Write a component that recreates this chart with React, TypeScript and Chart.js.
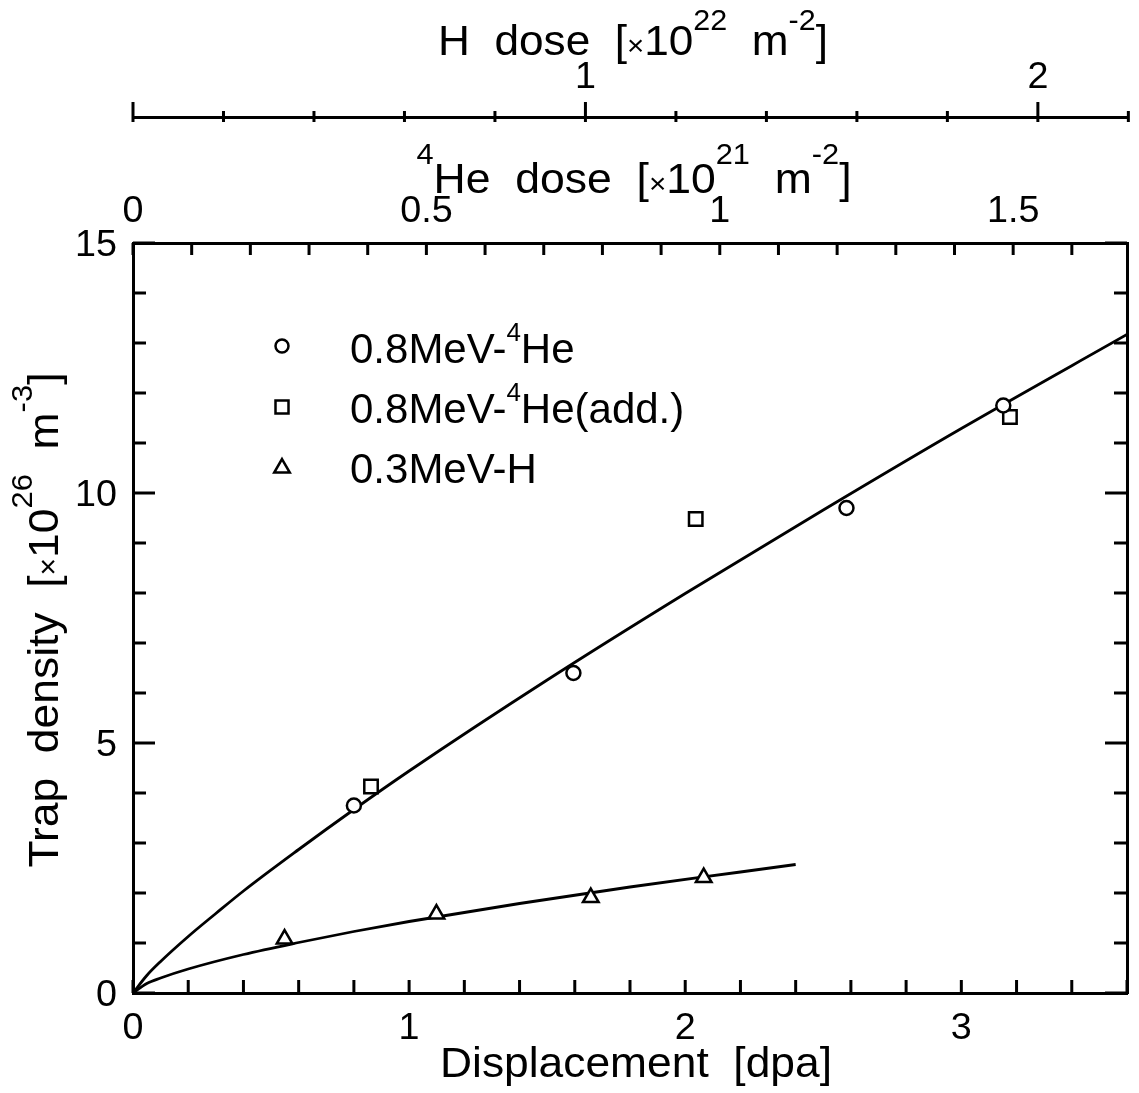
import React, { useEffect, useRef } from 'react';
import { Chart, registerables } from 'chart.js';

Chart.register(...registerables);

// ---- data ----
const circleX = [0.8, 1.595, 2.584, 3.152];
const circleY = [3.75, 6.4, 9.7, 11.75];
const squareX = [0.862, 2.038, 3.176];
const squareY = [4.13, 9.48, 11.52];
const triangleX = [0.549, 1.099, 1.658, 2.067];
const triangleY = [1.08, 1.58, 1.91, 2.31];

const fitHeX = [0, 0.05, 0.1, 0.2, 0.3, 0.4, 0.6, 0.8, 1.0, 1.5, 2.0, 2.5, 3.0, 3.6];
const fitHeY = [0, 0.35, 0.63, 1.13, 1.59, 2.04, 2.87, 3.67, 4.44, 6.26, 7.99, 9.66, 11.29, 13.17];
const fitHX = [0, 0.05, 0.1, 0.2, 0.4, 0.6, 0.8, 1.0, 1.4, 1.8, 2.2, 2.4];
const fitHY = [0, 0.19, 0.3, 0.48, 0.77, 1.01, 1.23, 1.43, 1.79, 2.12, 2.42, 2.57];

const xTickValues = [0, 1, 2, 3];
const xTickLabels = ['0', '1', '2', '3'];
const yTickValues = [0, 5, 10, 15];
const yTickLabels = ['0', '5', '10', '15'];
const heTickValues = [0, 0.5, 1, 1.5];
const heTickLabels = ['0', '0.5', '1', '1.5'];
const hTickValues = [1, 2];
const hTickLabels = ['1', '2'];

const seriesNames = ['0.8MeV-', '0.8MeV-', '0.3MeV-H'];

const FONT = '"Liberation Sans", Arial, Helvetica, sans-serif';

type Seg = { t: string; size: number; dy?: number };

function drawRich(
  ctx: CanvasRenderingContext2D,
  segs: Seg[],
  x: number,
  y: number,
  targetWidth: number | null,
  align: 'left' | 'center' | 'right',
  stretch = 1
) {
  let w = 0;
  const widths: number[] = [];
  for (const s of segs) {
    ctx.font = `${s.size}px ${FONT}`;
    const m = ctx.measureText(s.t).width;
    widths.push(m);
    w += m;
  }
  const sx = targetWidth ? targetWidth / w : stretch;
  ctx.save();
  ctx.translate(x, y);
  ctx.scale(sx, 1);
  let cx = align === 'center' ? -w / 2 : align === 'right' ? -w : 0;
  ctx.textBaseline = 'alphabetic';
  ctx.textAlign = 'left';
  segs.forEach((s, i) => {
    ctx.font = `${s.size}px ${FONT}`;
    ctx.fillText(s.t, cx, -(s.dy || 0));
    cx += widths[i];
  });
  ctx.restore();
}

const TICK_SIZE = 37;
const TICK_STRETCH = 1.02;

const overlay = {
  id: 'overlay',
  afterDraw(chart: any) {
    const { ctx, chartArea: a, scales } = chart;
    ctx.save();
    ctx.strokeStyle = '#000';
    ctx.fillStyle = '#000';
    ctx.lineWidth = 3;
    ctx.lineCap = 'butt';
    const line = (x1: number, y1: number, x2: number, y2: number) => {
      ctx.beginPath();
      ctx.moveTo(x1, y1);
      ctx.lineTo(x2, y2);
      ctx.stroke();
    };
    // left / right ticks (inward)
    for (let v = 0; v <= 15; v++) {
      const y = scales.y.getPixelForValue(v);
      const L = v % 5 === 0 ? 22 : 13;
      line(a.left, y, a.left + L, y);
      line(a.right, y, a.right - L, y);
    }
    // bottom ticks every 0.2 dpa
    for (let i = 0; i <= 18; i++) {
      const x = scales.x.getPixelForValue(i * 0.2);
      line(x, a.bottom, x, a.bottom - 13);
    }
    // top frame ticks: He dose every 0.1
    for (let i = 0; i <= 16; i++) {
      const x = scales.xHe.getPixelForValue(i * 0.1);
      line(x, a.top, x, a.top + 12);
    }
    // H dose axis ticks every 0.2
    const hy = scales.xH.bottom;
    for (let i = 0; i <= 11; i++) {
      const x = scales.xH.getPixelForValue(i * 0.2);
      const major = i % 5 === 0;
      line(x, hy - (major ? 15 : 6), x, hy + 5);
    }

    // tick labels
    ctx.fillStyle = '#000';
    yTickValues.forEach((v, i) => {
      const y = scales.y.getPixelForValue(v);
      drawRich(ctx, [{ t: yTickLabels[i], size: TICK_SIZE }], a.left - 16, y + 13, null, 'right', TICK_STRETCH);
    });
    xTickValues.forEach((v, i) => {
      const x = scales.x.getPixelForValue(v);
      drawRich(ctx, [{ t: xTickLabels[i], size: TICK_SIZE }], x, a.bottom + 46, null, 'center', TICK_STRETCH);
    });
    heTickValues.forEach((v, i) => {
      const x = scales.xHe.getPixelForValue(v);
      drawRich(ctx, [{ t: heTickLabels[i], size: TICK_SIZE }], x, a.top - 21, null, 'center', TICK_STRETCH);
    });
    hTickValues.forEach((v, i) => {
      const x = scales.xH.getPixelForValue(v);
      drawRich(ctx, [{ t: hTickLabels[i], size: TICK_SIZE }], x, hy - 29, null, 'center', TICK_STRETCH);
    });

    // titles
    drawRich(
      ctx,
      [
        { t: 'H  dose  [', size: 42 },
        { t: '×', size: 28 },
        { t: '10', size: 42 },
        { t: '22', size: 29, dy: 25 },
        { t: '  m', size: 42 },
        { t: '-2', size: 29, dy: 25 },
        { t: ']', size: 42 },
      ],
      633,
      55,
      390,
      'center'
    );
    drawRich(
      ctx,
      [
        { t: '4', size: 29, dy: 29 },
        { t: 'He  dose  [', size: 42 },
        { t: '×', size: 28 },
        { t: '10', size: 42 },
        { t: '21', size: 29, dy: 29 },
        { t: '  m', size: 42 },
        { t: '-2', size: 29, dy: 29 },
        { t: ']', size: 42 },
      ],
      634,
      193,
      435,
      'center'
    );
    drawRich(ctx, [{ t: 'Displacement  [dpa]', size: 42 }], 636, 1077, 392, 'center');

    ctx.save();
    ctx.translate(58, 620);
    ctx.rotate(-Math.PI / 2);
    drawRich(
      ctx,
      [
        { t: 'Trap  density  [', size: 43 },
        { t: '×', size: 29 },
        { t: '10', size: 43 },
        { t: '26', size: 30, dy: 26 },
        { t: '  m', size: 43 },
        { t: '-3', size: 30, dy: 26 },
        { t: ']', size: 43 },
      ],
      0,
      0,
      495,
      'center'
    );
    ctx.restore();

    // legend
    ctx.lineWidth = 2.5;
    ctx.fillStyle = '#fff';
    const mx = 282;
    ctx.beginPath();
    ctx.arc(mx, 346, 6.5, 0, Math.PI * 2);
    ctx.fill();
    ctx.stroke();
    ctx.beginPath();
    ctx.rect(mx - 6.5, 407 - 6.5, 13, 13);
    ctx.fill();
    ctx.stroke();
    const ty = 468;
    const r = 9;
    ctx.beginPath();
    ctx.moveTo(mx, ty - r);
    ctx.lineTo(mx + r * 0.866, ty + r / 2);
    ctx.lineTo(mx - r * 0.866, ty + r / 2);
    ctx.closePath();
    ctx.fill();
    ctx.stroke();

    ctx.fillStyle = '#000';
    drawRich(
      ctx,
      [
        { t: seriesNames[0], size: 42 },
        { t: '4', size: 26, dy: 22 },
        { t: 'He', size: 42 },
      ],
      350,
      363,
      null,
      'left'
    );
    drawRich(
      ctx,
      [
        { t: seriesNames[1], size: 42 },
        { t: '4', size: 26, dy: 22 },
        { t: 'He(add.)', size: 42 },
      ],
      350,
      423,
      null,
      'left'
    );
    drawRich(ctx, [{ t: seriesNames[2], size: 42 }], 350, 483, null, 'left');

    ctx.restore();
  },
};

const hiddenTicks = { display: false };

export default function App() {
  const ref = useRef<HTMLCanvasElement | null>(null);

  useEffect(() => {
    if (!ref.current) return;
    const pts = (xs: number[], ys: number[]) => xs.map((x, i) => ({ x, y: ys[i] }));
    const chart = new Chart(ref.current, {
      type: 'scatter',
      data: {
        datasets: [
          {
            label: '0.8MeV-4He',
            data: pts(circleX, circleY),
            pointStyle: 'circle',
            pointRadius: 7,
            borderColor: '#000',
            backgroundColor: '#fff',
            borderWidth: 2.5,
            order: 0,
          },
          {
            label: '0.8MeV-4He(add.)',
            data: pts(squareX, squareY),
            pointStyle: 'rect',
            pointRadius: 9.5,
            borderColor: '#000',
            backgroundColor: '#fff',
            borderWidth: 2.5,
            order: 0,
          },
          {
            label: '0.3MeV-H',
            data: pts(triangleX, triangleY),
            pointStyle: 'triangle',
            pointRadius: 9,
            borderColor: '#000',
            backgroundColor: '#fff',
            borderWidth: 2.5,
            order: 0,
          },
          {
            label: 'fit He',
            data: pts(fitHeX, fitHeY),
            showLine: true,
            pointRadius: 0,
            borderColor: '#000',
            borderWidth: 2.8,
            cubicInterpolationMode: 'monotone',
            order: 1,
          },
          {
            label: 'fit H',
            data: pts(fitHX, fitHY),
            showLine: true,
            pointRadius: 0,
            borderColor: '#000',
            borderWidth: 2.8,
            cubicInterpolationMode: 'monotone',
            order: 1,
          },
        ],
      },
      options: {
        responsive: false,
        animation: false,
        devicePixelRatio: 1,
        events: [],
        layout: { padding: 0 },
        plugins: { legend: { display: false }, tooltip: { enabled: false } },
        scales: {
          x: {
            type: 'linear',
            position: 'bottom',
            min: 0,
            max: 3.6,
            afterFit: (s: any) => {
              s.height = 100;
            },
            grid: { display: false, drawTicks: false },
            border: { display: true, width: 3, color: '#000' },
            ticks: hiddenTicks,
          },
          y: {
            type: 'linear',
            position: 'left',
            min: 0,
            max: 15,
            afterFit: (s: any) => {
              s.width = 133;
            },
            grid: { display: false, drawTicks: false },
            border: { display: true, width: 3, color: '#000' },
            ticks: hiddenTicks,
          },
          yR: {
            type: 'linear',
            position: 'right',
            min: 0,
            max: 15,
            afterFit: (s: any) => {
              s.width = 3;
            },
            grid: { display: false, drawTicks: false },
            border: { display: true, width: 3, color: '#000' },
            ticks: hiddenTicks,
          },
          xHe: {
            type: 'linear',
            position: 'top',
            weight: 0,
            min: 0,
            max: 1.694,
            afterFit: (s: any) => {
              s.height = 126;
            },
            grid: { display: false, drawTicks: false },
            border: { display: true, width: 3, color: '#000' },
            ticks: hiddenTicks,
          },
          xH: {
            type: 'linear',
            position: 'top',
            weight: 1,
            min: 0,
            max: 2.197,
            afterFit: (s: any) => {
              s.height = 117;
            },
            grid: { display: false, drawTicks: false },
            border: { display: true, width: 3, color: '#000' },
            ticks: hiddenTicks,
          },
        },
      } as any,
      plugins: [overlay],
    });
    return () => chart.destroy();
  }, []);

  return (
    <div
      style={{
        position: 'fixed',
        left: 0,
        top: 0,
        width: 1139,
        height: 1093,
        background: '#fff',
      }}
    >
      <canvas ref={ref} width={1139} height={1093} style={{ display: 'block' }} />
    </div>
  );
}
